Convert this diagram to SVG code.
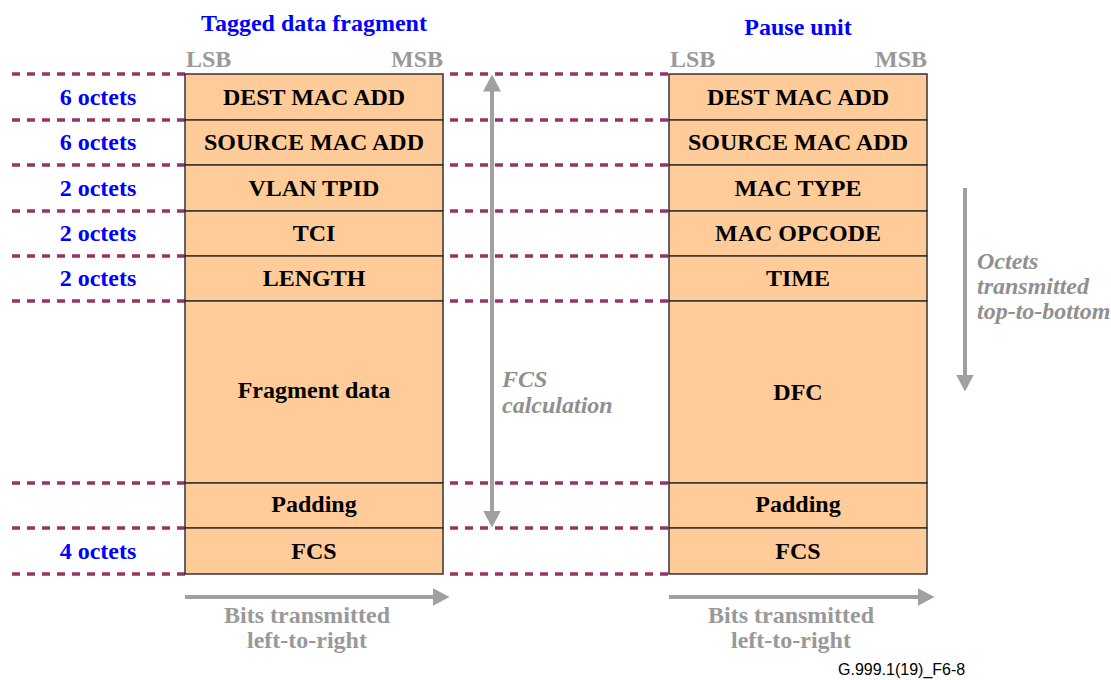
<svg xmlns="http://www.w3.org/2000/svg" width="1111" height="680" viewBox="0 0 1111 680">
<style>
  .cell { fill: #FFCC99; stroke: #333333; stroke-width: 1.5; }
  .ct { font-family: "Liberation Serif", "Times New Roman", serif; font-weight: bold; font-size: 24px; fill: #000000; text-anchor: middle; }
  .oct { font-family: "Liberation Serif", "Times New Roman", serif; font-weight: bold; font-size: 24px; fill: #0000FF; text-anchor: middle; }
  .title { font-family: "Liberation Serif", "Times New Roman", serif; font-weight: bold; font-size: 24px; fill: #0000FF; text-anchor: middle; }
  .bit { font-family: "Liberation Serif", "Times New Roman", serif; font-weight: bold; font-size: 24px; fill: #999999; }
  .note { font-family: "Liberation Serif", "Times New Roman", serif; font-weight: bold; font-style: italic; font-size: 24px; fill: #909090; }
  .dash { stroke: #993366; stroke-width: 3.5; stroke-dasharray: 8 7; fill: none; }
  .arr { stroke: #A0A0A0; stroke-width: 4; fill: none; }
  .cap { font-family: "Liberation Sans", Arial, sans-serif; font-size: 16px; fill: #000000; }
</style>
<defs>
  <marker id="ah" markerUnits="userSpaceOnUse" markerWidth="18" markerHeight="20" refX="0.5" refY="10" viewBox="0 0 18 20" orient="auto-start-reverse">
    <path d="M0,1 L17,10 L0,19 z" fill="#A0A0A0"/>
  </marker>
</defs>

<g id="connectors">
  <!-- left dashed lines -->
  <line class="dash" x1="12" y1="74" x2="185" y2="74"/>
  <line class="dash" x1="12" y1="120" x2="185" y2="120"/>
  <line class="dash" x1="12" y1="165" x2="185" y2="165"/>
  <line class="dash" x1="12" y1="211" x2="185" y2="211"/>
  <line class="dash" x1="12" y1="256" x2="185" y2="256"/>
  <line class="dash" x1="12" y1="301" x2="185" y2="301"/>
  <line class="dash" x1="12" y1="483" x2="185" y2="483"/>
  <line class="dash" x1="12" y1="528" x2="185" y2="528"/>
  <line class="dash" x1="12" y1="574" x2="185" y2="574"/>
  <!-- middle dashed lines -->
  <line class="dash" x1="450" y1="74" x2="669" y2="74"/>
  <line class="dash" x1="450" y1="120" x2="669" y2="120"/>
  <line class="dash" x1="450" y1="165" x2="669" y2="165"/>
  <line class="dash" x1="450" y1="211" x2="669" y2="211"/>
  <line class="dash" x1="450" y1="256" x2="669" y2="256"/>
  <line class="dash" x1="450" y1="301" x2="669" y2="301"/>
  <line class="dash" x1="450" y1="483" x2="669" y2="483"/>
  <line class="dash" x1="450" y1="528" x2="669" y2="528"/>
  <line class="dash" x1="450" y1="574" x2="669" y2="574"/>
  <!-- arrows -->
  <line class="arr" x1="492" y1="91" x2="492" y2="511" marker-start="url(#ah)" marker-end="url(#ah)"/>
  <line class="arr" x1="965" y1="188" x2="965" y2="375" marker-end="url(#ah)"/>
  <line class="arr" x1="185" y1="597" x2="433" y2="597" marker-end="url(#ah)"/>
  <line class="arr" x1="669" y1="597" x2="918" y2="597" marker-end="url(#ah)"/>
</g>

<g id="titles">
  <text class="title" x="314" y="31">Tagged data fragment</text>
  <text class="title" x="798" y="35">Pause unit</text>
  <text class="bit" x="186" y="67">LSB</text>
  <text class="bit" x="443" y="67" text-anchor="end">MSB</text>
  <text class="bit" x="670" y="67">LSB</text>
  <text class="bit" x="927" y="67" text-anchor="end">MSB</text>
</g>

<g id="octet-labels">
  <text class="oct" x="98" y="105">6 octets</text>
  <text class="oct" x="98" y="150">6 octets</text>
  <text class="oct" x="98" y="196">2 octets</text>
  <text class="oct" x="98" y="241">2 octets</text>
  <text class="oct" x="98" y="286">2 octets</text>
  <text class="oct" x="98" y="559">4 octets</text>
</g>

<g id="tagged-data-fragment">
  <g id="tdf-dest"><rect class="cell" x="185" y="74" width="258" height="46"/><text class="ct" x="314" y="105">DEST MAC ADD</text></g>
  <g id="tdf-source"><rect class="cell" x="185" y="120" width="258" height="45"/><text class="ct" x="314" y="150">SOURCE MAC ADD</text></g>
  <g id="tdf-vlan"><rect class="cell" x="185" y="165" width="258" height="46"/><text class="ct" x="314" y="196">VLAN TPID</text></g>
  <g id="tdf-tci"><rect class="cell" x="185" y="211" width="258" height="45"/><text class="ct" x="314" y="241">TCI</text></g>
  <g id="tdf-length"><rect class="cell" x="185" y="256" width="258" height="45"/><text class="ct" x="314" y="286">LENGTH</text></g>
  <g id="tdf-fragment"><rect class="cell" x="185" y="301" width="258" height="182"/><text class="ct" x="314" y="398">Fragment data</text></g>
  <g id="tdf-padding"><rect class="cell" x="185" y="483" width="258" height="45"/><text class="ct" x="314" y="512">Padding</text></g>
  <g id="tdf-fcs"><rect class="cell" x="185" y="528" width="258" height="46"/><text class="ct" x="314" y="559">FCS</text></g>
</g>

<g id="pause-unit">
  <g id="pu-dest"><rect class="cell" x="669" y="74" width="258" height="46"/><text class="ct" x="798" y="105">DEST MAC ADD</text></g>
  <g id="pu-source"><rect class="cell" x="669" y="120" width="258" height="45"/><text class="ct" x="798" y="150">SOURCE MAC ADD</text></g>
  <g id="pu-mactype"><rect class="cell" x="669" y="165" width="258" height="46"/><text class="ct" x="798" y="196">MAC TYPE</text></g>
  <g id="pu-opcode"><rect class="cell" x="669" y="211" width="258" height="45"/><text class="ct" x="798" y="241">MAC OPCODE</text></g>
  <g id="pu-time"><rect class="cell" x="669" y="256" width="258" height="45"/><text class="ct" x="798" y="286">TIME</text></g>
  <g id="pu-dfc"><rect class="cell" x="669" y="301" width="258" height="182"/><text class="ct" x="798" y="400">DFC</text></g>
  <g id="pu-padding"><rect class="cell" x="669" y="483" width="258" height="45"/><text class="ct" x="798" y="512">Padding</text></g>
  <g id="pu-fcs"><rect class="cell" x="669" y="528" width="258" height="46"/><text class="ct" x="798" y="559">FCS</text></g>
</g>

<g id="annotations">
  <text class="note" x="502" y="387">FCS</text>
  <text class="note" x="502" y="413">calculation</text>
  <text class="note" x="977" y="269">Octets</text>
  <text class="note" x="977" y="294">transmitted</text>
  <text class="note" x="977" y="319">top-to-bottom</text>
  <text class="bit" x="307" y="623" text-anchor="middle">Bits transmitted</text>
  <text class="bit" x="307" y="648" text-anchor="middle">left-to-right</text>
  <text class="bit" x="791" y="623" text-anchor="middle">Bits transmitted</text>
  <text class="bit" x="791" y="648" text-anchor="middle">left-to-right</text>
  <text class="cap" x="838" y="675">G.999.1(19)_F6-8</text>
</g>
</svg>
